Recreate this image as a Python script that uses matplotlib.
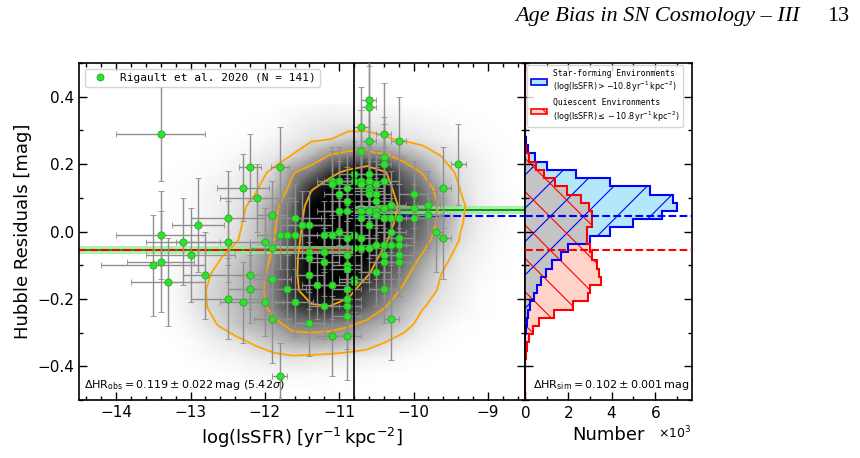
import numpy as np
import matplotlib
matplotlib.use('Agg')
import matplotlib.pyplot as plt
from matplotlib.lines import Line2D
from matplotlib.patches import Patch
from matplotlib.ticker import MultipleLocator

plt.rcParams['hatch.linewidth'] = 0.8

# observed SNe Ia (Rigault et al. 2020): log(lsSFR), Hubble residual and errors
obs_x = [-13.4, -12.2, -11.8, -12.3, -12.1, -11.9, -12.5, -11.6, -12.9, -11.5,
         -11.4, -13.4, -11.8, -11.7, -11.6, -13.1, -12.5, -12.0, -11.9, -13.0,
         -13.4, -13.5, -12.8, -12.2, -13.3, -11.9, -12.2, -11.7, -12.5, -12.3,
         -12.0, -11.6, -11.9, -11.8, -10.6, -10.6, -10.7, -10.4, -10.6, -10.2,
         -10.7, -10.4, -10.4, -9.4, -10.8, -10.6, -11.1, -11.0, -10.8, -10.7,
         -10.6, -10.4, -11.1, -10.9, -10.7, -10.5, -10.6, -9.6, -11.0, -10.6,
         -10.6, -10.5, -10.0, -10.9, -10.5, -9.8, -9.8, -11.0, -10.9, -10.7,
         -10.6, -10.5, -10.4, -10.3, -10.0, -10.5, -10.4, -10.3, -10.2, -10.0,
         -10.7, -10.6, -9.7, -10.3, -11.0, -11.2, -11.1, -10.9, -10.8, -10.7,
         -10.2, -9.6, -10.4, -10.5, -10.3, -10.2, -10.6, -10.7, -10.8, -11.4,
         -11.2, -10.9, -10.4, -10.2, -11.4, -11.2, -10.4, -10.2, -10.9, -10.9,
         -10.5, -11.4, -10.8, -10.8, -11.3, -11.1, -10.9, -10.4, -10.9, -10.9,
         -11.2, -10.9, -10.3, -11.4, -11.1, -10.9]
obs_y = [0.29, 0.19, 0.19, 0.13, 0.10, 0.05, 0.04, 0.04, 0.02, 0.02,
         0.02, -0.01, -0.01, -0.01, -0.01, -0.03, -0.03, -0.03, -0.05, -0.07,
         -0.09, -0.10, -0.13, -0.13, -0.15, -0.14, -0.17, -0.17, -0.20, -0.21,
         -0.21, -0.21, -0.26, -0.43, 0.39, 0.37, 0.31, 0.29, 0.27, 0.27,
         0.24, 0.22, 0.20, 0.20, 0.17, 0.17, 0.15, 0.15, 0.15, 0.15,
         0.15, 0.15, 0.14, 0.13, 0.14, 0.14, 0.13, 0.13, 0.11, 0.12,
         0.11, 0.11, 0.11, 0.09, 0.09, 0.08, 0.05, 0.06, 0.06, 0.06,
         0.06, 0.06, 0.07, 0.08, 0.07, 0.05, 0.04, 0.04, 0.04, 0.04,
         0.04, 0.02, 0.00, 0.00, 0.00, -0.01, -0.01, -0.02, -0.01, -0.02,
         -0.02, -0.02, -0.04, -0.04, -0.04, -0.04, -0.05, -0.05, -0.05, -0.06,
         -0.06, -0.07, -0.07, -0.07, -0.08, -0.09, -0.09, -0.09, -0.10, -0.11,
         -0.12, -0.13, -0.14, -0.15, -0.16, -0.16, -0.17, -0.17, -0.20, -0.22,
         -0.22, -0.25, -0.26, -0.27, -0.31, -0.31]
obs_xerr = [0.6, 0.15, 0.12, 0.35, 0.5, 0.2, 0.5, 0.35, 0.35, 0.3,
            0.3, 0.6, 0.3, 0.3, 0.3, 0.5, 0.7, 0.2, 0.3, 0.6,
            0.45, 0.7, 0.3, 0.3, 0.5, 0.25, 0.3, 0.25, 0.5, 0.3,
            0.25, 0.25, 0.25, 0.1, 0.1, 0.1, 0.1, 0.1, 0.1, 0.1,
            0.1, 0.1, 0.1, 0.1, 0.2, 0.2, 0.2, 0.2, 0.2, 0.2,
            0.2, 0.2, 0.2, 0.2, 0.2, 0.2, 0.2, 0.1, 0.2, 0.2,
            0.2, 0.2, 0.2, 0.2, 0.2, 0.15, 0.15, 0.3, 0.3, 0.2,
            0.2, 0.2, 0.2, 0.2, 0.2, 0.2, 0.2, 0.2, 0.2, 0.2,
            0.2, 0.2, 0.1, 0.2, 0.2, 0.2, 0.2, 0.2, 0.2, 0.2,
            0.2, 0.1, 0.2, 0.2, 0.2, 0.2, 0.2, 0.2, 0.2, 0.2,
            0.2, 0.2, 0.2, 0.2, 0.2, 0.2, 0.2, 0.2, 0.2, 0.2,
            0.2, 0.2, 0.2, 0.2, 0.2, 0.2, 0.2, 0.2, 0.2, 0.2,
            0.2, 0.2, 0.1, 0.2, 0.2, 0.2]
obs_yerr = [0.14, 0.1, 0.12, 0.1, 0.1, 0.1, 0.14, 0.1, 0.14, 0.1,
            0.1, 0.13, 0.1, 0.1, 0.1, 0.13, 0.12, 0.1, 0.1, 0.14,
            0.15, 0.15, 0.13, 0.1, 0.13, 0.1, 0.1, 0.1, 0.12, 0.12,
            0.1, 0.1, 0.13, 0.1, 0.12, 0.12, 0.12, 0.15, 0.13, 0.13,
            0.12, 0.12, 0.12, 0.12, 0.1, 0.1, 0.1, 0.1, 0.1, 0.1,
            0.1, 0.1, 0.1, 0.1, 0.1, 0.1, 0.1, 0.12, 0.1, 0.1,
            0.1, 0.1, 0.1, 0.1, 0.1, 0.1, 0.1, 0.1, 0.1, 0.1,
            0.1, 0.1, 0.1, 0.1, 0.1, 0.1, 0.1, 0.1, 0.1, 0.1,
            0.1, 0.1, 0.12, 0.1, 0.1, 0.1, 0.1, 0.1, 0.1, 0.1,
            0.1, 0.12, 0.1, 0.1, 0.1, 0.1, 0.1, 0.1, 0.1, 0.1,
            0.1, 0.1, 0.1, 0.1, 0.1, 0.1, 0.1, 0.1, 0.1, 0.1,
            0.1, 0.1, 0.1, 0.1, 0.1, 0.1, 0.1, 0.1, 0.1, 0.1,
            0.1, 0.1, 0.12, 0.1, 0.12, 0.13]

# simulated population density, rows from top to bottom
dens_x = [-13.375, -13.125, -12.875, -12.625, -12.375, -12.125, -11.875, -11.625,
          -11.375, -11.125, -10.875, -10.625, -10.375, -10.125, -9.875, -9.625,
          -9.375, -9.125, -8.875, -8.625]
dens_y = [0.375, 0.325, 0.275, 0.225, 0.175, 0.125, 0.075, 0.025, -0.025,
          -0.075, -0.125, -0.175, -0.225, -0.275, -0.325, -0.375, -0.425, -0.475]
dens = [
    [0, 0, 0, 0, 0, 0, 0, 0.1, 0.15, 0.2, 0.2, 0.2, 0.15, 0.1, 0.05, 0, 0, 0, 0, 0],
    [0, 0, 0, 0, 0, 0.05, 0.1, 0.3, 0.45, 0.55, 0.5, 0.5, 0.5, 0.4, 0.3, 0.2, 0.1, 0.05, 0, 0],
    [0, 0, 0, 0, 0.05, 0.1, 0.3, 0.5, 0.8, 0.95, 1.4, 1.4, 1.1, 0.8, 0.6, 0.4, 0.2, 0.1, 0.05, 0],
    [0, 0, 0, 0.1, 0.2, 0.4, 0.6, 1.05, 2.0, 3.1, 3.6, 3.6, 3.2, 2.4, 1.6, 0.97, 0.6, 0.3, 0.1, 0],
    [0, 0.05, 0.1, 0.2, 0.4, 0.7, 1.2, 2.9, 3.8, 5.5, 6.5, 7.5, 6.1, 4.0, 2.9, 1.5, 0.8, 0.4, 0.15, 0],
    [0, 0.1, 0.2, 0.4, 0.6, 0.9, 1.8, 3.5, 5.9, 7.0, 8.0, 8.0, 6.6, 5.0, 3.8, 2.4, 1.0, 0.4, 0.15, 0],
    [0, 0.1, 0.2, 0.4, 0.7, 1.3, 2.6, 4.2, 7.0, 8.5, 9.0, 8.5, 7.0, 5.5, 4.3, 2.7, 1.2, 0.5, 0.2, 0],
    [0, 0.1, 0.3, 0.5, 0.8, 1.5, 2.8, 4.5, 7.5, 9.0, 9.0, 8.5, 6.8, 5.0, 4.0, 2.6, 1.1, 0.5, 0.2, 0],
    [0, 0.1, 0.3, 0.6, 0.95, 1.6, 3.0, 5.0, 7.5, 9.0, 8.8, 8.0, 6.2, 4.5, 3.6, 2.2, 0.95, 0.4, 0.15, 0],
    [0, 0.15, 0.4, 0.9, 1.4, 2.2, 3.2, 5.4, 7.5, 8.8, 8.5, 7.0, 5.4, 4.0, 2.8, 1.4, 0.6, 0.3, 0.1, 0],
    [0, 0.3, 0.7, 1.2, 1.7, 2.4, 3.5, 5.6, 7.2, 8.0, 7.5, 6.2, 4.8, 3.4, 2.0, 1.0, 0.5, 0.2, 0.05, 0],
    [0, 0.35, 0.85, 1.3, 1.8, 2.5, 3.6, 5.6, 6.8, 7.2, 6.5, 5.0, 3.9, 2.7, 1.6, 0.8, 0.4, 0.1, 0, 0],
    [0, 0.3, 0.8, 1.3, 1.8, 2.3, 3.5, 5.0, 5.8, 5.9, 5.4, 4.2, 3.0, 1.9, 1.05, 0.6, 0.3, 0.1, 0, 0],
    [0, 0.15, 0.5, 1.05, 1.6, 2.1, 2.6, 3.5, 3.6, 3.5, 3.2, 2.6, 2.0, 1.4, 0.6, 0.3, 0.1, 0, 0, 0],
    [0, 0.05, 0.2, 0.5, 0.8, 1.2, 1.7, 2.3, 2.4, 2.3, 2.0, 1.6, 1.05, 0.6, 0.3, 0.1, 0, 0, 0, 0],
    [0, 0, 0.1, 0.2, 0.3, 0.5, 0.7, 0.8, 0.7, 0.6, 0.5, 0.4, 0.3, 0.15, 0.05, 0, 0, 0, 0, 0],
    [0, 0, 0, 0, 0.1, 0.15, 0.2, 0.2, 0.15, 0.1, 0.1, 0.05, 0, 0, 0, 0, 0, 0, 0, 0],
    [0, 0, 0, 0, 0, 0, 0, 0, 0, 0, 0, 0, 0, 0, 0, 0, 0, 0, 0, 0],
]
dens_levels = [1.0, 3.0, 6.0]

# simulated HR histograms (counts per bin, bins from -0.5 upwards)
hist_edges = np.linspace(-0.5, 0.5, 42)
sf_counts = [0, 0, 0, 0, 0, 0, 0, 20, 40, 80, 150, 240, 400, 550, 730, 960, 1260,
             1640, 2000, 3000, 3930, 5000, 6300, 7000, 6850, 5750, 3930, 2330, 1000,
             460, 150, 50, 20, 0, 0, 0, 0, 0, 0, 0, 0]
q_counts = [0, 0, 0, 0, 0, 50, 100, 200, 350, 650, 1340, 2200, 2900, 3000, 3500,
            3400, 3300, 3100, 3000, 2860, 2860, 3100, 3100, 2940, 2600, 1950, 1400,
            880, 500, 200, 50, 0, 0, 0, 0, 0, 0, 0, 0, 0, 0]

split = -10.8
sim_sf_mean = 0.047
sim_q_mean = -0.055
obs_sf_mean = 0.064
obs_q_mean = -0.055
obs_mean_err = 0.013

xlim = (-14.5, -8.5)
ylim = (-0.5, 0.5)

fig = plt.figure(figsize=(8.6, 4.58), dpi=100)
ax = fig.add_axes([0.0919, 0.1266, 0.5186, 0.7358])
ax2 = fig.add_axes([0.6105, 0.1266, 0.194, 0.7358], sharey=ax)

# grey density map + contours
ax.pcolormesh(dens_x, dens_y, dens, shading='gouraud', cmap='gray_r',
              vmin=0, vmax=7.0, zorder=0, rasterized=True)
ax.contour(dens_x, dens_y, dens, levels=dens_levels, colors='orange',
           linewidths=1.3, zorder=2)

# observed mean HR on each side of the split
ax.fill_between([xlim[0], split], obs_q_mean - obs_mean_err, obs_q_mean + obs_mean_err,
                color='#8ef08e', alpha=0.75, lw=0, zorder=1)
ax.fill_between([split, xlim[1]], obs_sf_mean - obs_mean_err, obs_sf_mean + obs_mean_err,
                color='#8ef08e', alpha=0.75, lw=0, zorder=1)
ax.hlines(obs_q_mean, xlim[0], split, color='green', lw=1.2, zorder=1.5)
ax.hlines(obs_sf_mean, split, xlim[1], color='green', lw=1.2, zorder=1.5)
ax.hlines(sim_q_mean, xlim[0], split, color='red', ls='--', lw=1.5, zorder=1.6)
ax.hlines(sim_sf_mean, split, xlim[1], color='blue', ls='--', lw=1.5, zorder=1.6)

ax.errorbar(obs_x, obs_y, xerr=obs_xerr, yerr=obs_yerr, fmt='o', ms=5.2,
            color='#2fe02f', mec='#28a828', mew=0.6, ecolor='#8f8f8f', elinewidth=1,
            capsize=2, capthick=1, zorder=3)
ax.axvline(split, color='k', lw=1.2, zorder=4)

ax.set_xlim(*xlim)
ax.set_ylim(*ylim)
ax.xaxis.set_major_locator(MultipleLocator(1))
ax.xaxis.set_minor_locator(MultipleLocator(0.2))
ax.yaxis.set_major_locator(MultipleLocator(0.2))
ax.yaxis.set_minor_locator(MultipleLocator(0.1))
ax.set_xlabel(r'log(lsSFR) [yr$^{-1}\,$kpc$^{-2}$]', fontsize=13)
ax.set_ylabel('Hubble Residuals [mag]', fontsize=13)

leg_handle = Line2D([], [], marker='o', ls='', color='#2fe02f', mec='#28a828', mew=0.6, ms=5)
ax.legend(handles=[leg_handle], labels=['Rigault et al. 2020 (N = 141)'], loc='upper left',
          prop={'family': 'DejaVu Sans Mono', 'size': 8})
ax.text(0.012, 0.025, r'$\Delta\mathrm{HR}_{\mathrm{obs}} = 0.119 \pm 0.022\,\mathrm{mag}\ (5.42\sigma)$',
        transform=ax.transAxes, fontsize=8, ha='left', va='bottom', zorder=5)

# histograms of the simulated HR
blue_fill = '#b3e8fb'
red_fill = '#ffd3c8'
grey_fill = '#c4c4c4'
sf = np.array(sf_counts)
q = np.array(q_counts)
ax2.stairs(sf, hist_edges, orientation='horizontal', fill=True, color=blue_fill, zorder=1)
ax2.stairs(q, hist_edges, orientation='horizontal', fill=True, color=red_fill, zorder=1.1)
ax2.stairs(np.minimum(sf, q), hist_edges, orientation='horizontal', fill=True,
           color=grey_fill, zorder=1.2)
ax2.stairs(sf, hist_edges, orientation='horizontal', fill=True, facecolor='none',
           edgecolor='blue', hatch='/', lw=0, zorder=1.3)
ax2.stairs(q, hist_edges, orientation='horizontal', fill=True, facecolor='none',
           edgecolor='red', hatch='\\', lw=0, zorder=1.4)
ax2.stairs(sf, hist_edges, orientation='horizontal', fill=False, color='blue', lw=1.5, zorder=2)
ax2.stairs(q, hist_edges, orientation='horizontal', fill=False, color='red', lw=1.5, zorder=2.1)
ax2.axhline(sim_sf_mean, color='blue', ls='--', lw=1.5, zorder=3)
ax2.axhline(sim_q_mean, color='red', ls='--', lw=1.5, zorder=3)

ax2.set_xlim(0, 7700)
ax2.xaxis.set_major_locator(MultipleLocator(2000))
ax2.xaxis.set_minor_locator(MultipleLocator(1000))
ax2.ticklabel_format(axis='x', style='sci', scilimits=(0, 0), useMathText=True)
ax2.xaxis.get_offset_text().set_fontsize(9)
ax2.set_xlabel('Number', fontsize=13)
ax2.tick_params(labelleft=False)

hist_handles = [Patch(facecolor=blue_fill, edgecolor='blue', hatch='/', lw=1.2),
                Patch(facecolor=red_fill, edgecolor='red', hatch='\\', lw=1.2)]
hist_labels = ['Star-forming Environments\n' +
               r'$(\log(\mathrm{lsSFR}) > -10.8\,\mathrm{yr}^{-1}\,\mathrm{kpc}^{-2})$',
               'Quiescent Environments\n' +
               r'$(\log(\mathrm{lsSFR}) \leq -10.8\,\mathrm{yr}^{-1}\,\mathrm{kpc}^{-2})$']
ax2.legend(handles=hist_handles, labels=hist_labels, loc='upper left',
           prop={'family': 'DejaVu Sans Mono', 'size': 5.8}, borderaxespad=0.3)
ax2.text(0.05, 0.025, r'$\Delta\mathrm{HR}_{\mathrm{sim}} = 0.102 \pm 0.001\,\mathrm{mag}$',
         transform=ax2.transAxes, fontsize=8, ha='left', va='bottom', zorder=5)

for a in (ax, ax2):
    a.tick_params(which='both', direction='in', top=True, right=True, labelsize=11)
    a.tick_params(which='major', length=6, width=1)
    a.tick_params(which='minor', length=3, width=1)
    for s in a.spines.values():
        s.set_linewidth(1.2)

# page header
fig.text(0.930, 0.955, 'Age Bias in SN Cosmology – III', family='Liberation Serif',
         style='italic', fontsize=16, ha='right', va='baseline')
fig.text(0.988, 0.955, '13', family='Liberation Serif', fontsize=16, ha='right', va='baseline')

fig.savefig('out.png', dpi=100)
